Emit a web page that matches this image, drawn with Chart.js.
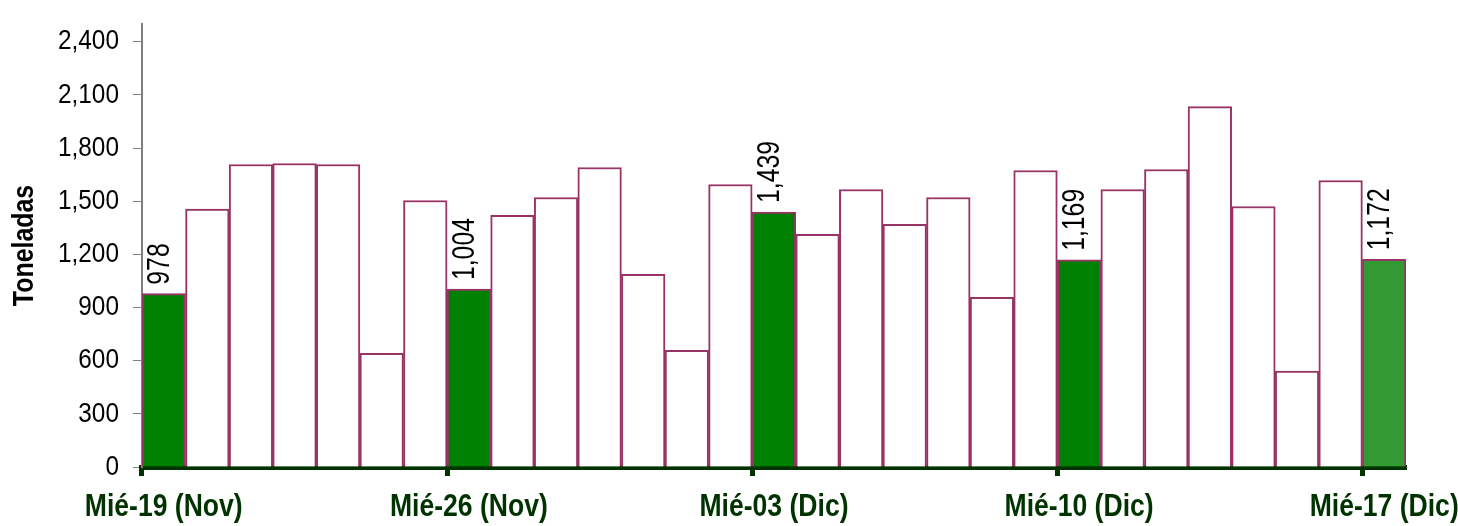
<!DOCTYPE html>
<html>
<head>
<meta charset="utf-8">
<script src="https://cdn.jsdelivr.net/npm/chart.js@4"></script>
<style>
  html, body { margin: 0; padding: 0; background: #fff; }
  #wrap { width: 1458px; height: 526px; }
</style>
</head>
<body>
<div id="wrap"><canvas id="barras"></canvas></div>
<script>
// dias del 19 nov al 17 dic
const dias = [
  "Mié-19 (Nov)", "Jue-20 (Nov)", "Vie-21 (Nov)", "Sáb-22 (Nov)", "Dom-23 (Nov)", "Lun-24 (Nov)", "Mar-25 (Nov)",
  "Mié-26 (Nov)", "Jue-27 (Nov)", "Vie-28 (Nov)", "Sáb-29 (Nov)", "Dom-30 (Nov)", "Lun-01 (Dic)", "Mar-02 (Dic)",
  "Mié-03 (Dic)", "Jue-04 (Dic)", "Vie-05 (Dic)", "Sáb-06 (Dic)", "Dom-07 (Dic)", "Lun-08 (Dic)", "Mar-09 (Dic)",
  "Mié-10 (Dic)", "Jue-11 (Dic)", "Vie-12 (Dic)", "Sáb-13 (Dic)", "Dom-14 (Dic)", "Lun-15 (Dic)", "Mar-16 (Dic)",
  "Mié-17 (Dic)"
];
const toneladas = [
  978, 1455, 1707, 1713, 1707, 642, 1504,
  1004, 1420, 1521, 1690, 1087, 659, 1594,
  1439, 1313, 1566, 1369, 1521, 958, 1673,
  1169, 1566, 1679, 2034, 1470, 541, 1617,
  1172
];
const miercoles = [0, 7, 14, 21, 28];

const verde = "#008000";
const verdeHoy = "#339933";
const morado = "#993366";
const verdeEje = "#003300";
const fuente = "'Liberation Sans', Arial, sans-serif";

const fondos = toneladas.map((v, i) => {
  if (i === toneladas.length - 1) return verdeHoy;
  return miercoles.includes(i) ? verde : "#ffffff";
});

// el original usa letra angosta: se comprime el texto en horizontal
const lienzo = document.getElementById("barras");
const c2d = lienzo.getContext("2d");
const fillOrig = c2d.fillText.bind(c2d);
const medirOrig = c2d.measureText.bind(c2d);
function angosto(font) {
  if (font.includes("bold")) return 0.83;
  if (font.includes("31px")) return 0.8;
  return 0.87;
}
c2d.fillText = function (t, x, y, w) {
  const k = angosto(this.font);
  this.save();
  this.translate(x, y);
  this.scale(k, 1);
  fillOrig(t, 0, 0);
  this.restore();
};
c2d.measureText = function (t) {
  const m = medirOrig(t);
  const k = angosto(this.font);
  return {
    width: m.width * k,
    actualBoundingBoxLeft: m.actualBoundingBoxLeft * k,
    actualBoundingBoxRight: m.actualBoundingBoxRight * k,
    actualBoundingBoxAscent: m.actualBoundingBoxAscent,
    actualBoundingBoxDescent: m.actualBoundingBoxDescent,
    fontBoundingBoxAscent: m.fontBoundingBoxAscent,
    fontBoundingBoxDescent: m.fontBoundingBoxDescent,
  };
};

const etiquetas = {
  id: "etiquetas",
  afterDatasetsDraw(chart) {
    const ctx = chart.ctx;
    const meta = chart.getDatasetMeta(0);
    ctx.save();
    ctx.font = "31px " + fuente;
    ctx.fillStyle = "#000";
    ctx.textAlign = "left";
    ctx.textBaseline = "alphabetic";
    miercoles.forEach((i) => {
      const b = meta.data[i];
      ctx.save();
      ctx.translate(b.x + 5, b.y - 9);
      ctx.rotate(-Math.PI / 2);
      ctx.fillText(toneladas[i].toLocaleString("en-US"), 0, 0);
      ctx.restore();
    });
    ctx.restore();
  },
};

const sinRelleno = (s) => {
  s.paddingLeft = 0;
  s.paddingRight = 0;
  s.paddingTop = 0;
  s.paddingBottom = 0;
};

let bar = new Chart(lienzo, {
  type: "bar",
  data: {
    labels: dias,
    datasets: [
      {
        data: toneladas,
        backgroundColor: fondos,
        borderColor: morado,
        borderWidth: 2,
        borderSkipped: "bottom",
        categoryPercentage: 1,
        barPercentage: 1,
      },
    ],
  },
  options: {
    responsive: true,
    maintainAspectRatio: false,
    animation: false,
    layout: { padding: { top: 24, right: 52, left: 7, bottom: 0 } },
    plugins: {
      legend: { display: false },
      tooltip: { enabled: false },
    },
    scales: {
      x: {
        offset: true,
        afterFit: (s) => {
          sinRelleno(s);
          s.height = 59;
        },
        grid: {
          offset: true,
          drawOnChartArea: false,
          drawTicks: true,
          tickLength: 9,
          tickWidth: 5,
          tickColor: (c) => (miercoles.includes(c.index) ? verdeEje : "rgba(0,0,0,0)"),
        },
        border: { color: verdeEje, width: 5 },
        ticks: {
          autoSkip: false,
          maxRotation: 0,
          minRotation: 0,
          padding: 12,
          color: verdeEje,
          font: { family: fuente, size: 32, weight: "bold" },
          callback: (v, i) => (miercoles.includes(i) ? dias[i] : ""),
        },
      },
      y: {
        min: 0,
        max: 2500,
        afterFit: sinRelleno,
        grid: {
          drawOnChartArea: false,
          drawTicks: true,
          tickLength: 9,
          tickColor: "#808080",
        },
        border: { color: "#808080", width: 2 },
        ticks: {
          stepSize: 300,
          includeBounds: false,
          padding: 14,
          color: "#000",
          font: { family: fuente, size: 28 },
          callback: (v) => v.toLocaleString("en-US"),
        },
        title: {
          display: true,
          text: "Toneladas",
          color: "#000",
          padding: { top: 0, bottom: 1 },
          font: { family: fuente, size: 30, weight: "bold" },
        },
      },
    },
  },
  plugins: [etiquetas],
});
</script>
</body>
</html>
